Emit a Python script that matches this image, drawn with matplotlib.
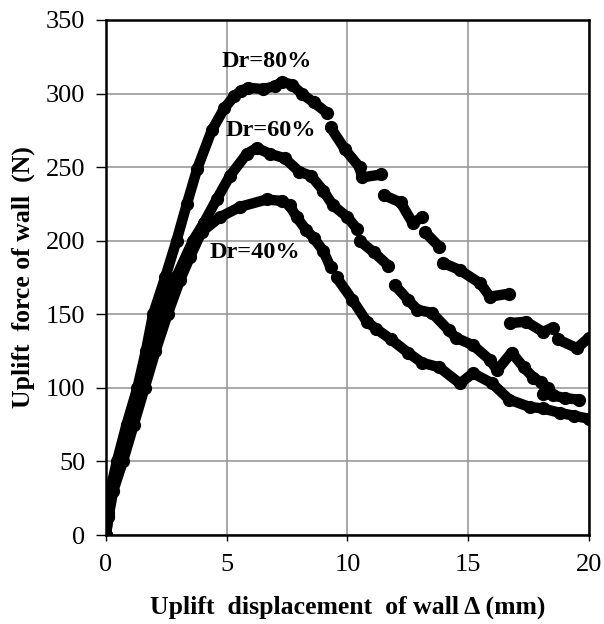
import numpy as np
import matplotlib.pyplot as plt

nan = np.nan

# Dr = 80 %
x80 = [0, 0.08, 0.2, 0.45, 0.85, 1.3, 1.65, 1.95, 2.45, 2.92, 3.35, 3.78, 4.38, 4.9, 5.3, 5.6,
       5.9, 6.5, 7.0, 7.3, 7.7, 8.1, 8.6, 9.15, nan,
       9.3, 9.9, 10.5, 10.6, 11.4, nan,
       11.5, 12.2, 12.7, 13.1, nan,
       13.2, 13.8, nan,
       13.95, 14.66, 15.5, 15.9, 16.7, nan,
       16.75, 17.4, 18.1, 18.5, nan,
       18.7, 19.5, 20.0]
y80 = [0, 15, 32, 50, 75, 100, 125, 150, 175, 200, 225, 249, 275, 290, 298, 302,
       304, 303, 305, 308, 306, 300, 294, 287, nan,
       277, 262, 250, 243, 245, nan,
       231, 226, 212, 216, nan,
       206, 196, nan,
       185, 180, 171, 162, 164, nan,
       144, 145, 138, 141, nan,
       133, 127, 134]

# Dr = 60 %
x60 = [0, 0.1, 0.25, 0.6, 1.05, 1.45, 1.85, 2.3, 2.9, 3.6, 4.05, 4.58, 5.13, 5.83, 6.24, 6.8,
       7.4, 8.0, 8.5, 9.0, 9.4, 10.0, 10.4, nan,
       10.5, 11.1, 11.7, nan,
       11.95, 12.5, 12.9, 13.5, 14.2, 14.5, 15.2, 15.9, 16.2, 16.8, 17.3, 17.7, 18.0,
       18.3, 18.1, 18.5, 19.0, 19.6]
y60 = [0, 13, 30, 50, 75, 100, 125, 150, 175, 200, 212, 228, 244, 259, 263, 259,
       256, 247, 244, 234, 224, 216, 208, nan,
       200, 192, 183, nan,
       170, 160, 153, 151, 139, 134, 129, 119, 112, 124, 114, 107, 104,
       100, 96, 95, 93, 92]

# Dr = 40 %
x40 = [0, 0.1, 0.3, 0.7, 1.15, 1.6, 2.05, 2.55, 3.06, 3.48, 3.96, 4.72, 5.55, 6.65, 7.3,
       7.6, 7.9, 8.3, 8.6, 9.0, 9.3, nan,
       9.55, 10.2, 10.8, 11.2, 11.8, 12.5, 13.1, 13.8, 14.66, 15.2, 16.0, 16.7,
       17.55, 18.1, 18.8, 19.4, 20.0]
y40 = [0, 12, 30, 50, 75, 100, 125, 150, 173, 189, 206, 216, 223, 228, 227,
       224, 216, 207, 202, 193, 182, nan,
       175, 160, 145, 140, 133, 124, 117, 114, 103, 110, 103, 92,
       87, 86, 83, 81, 79]

labels = ['Dr=80%', 'Dr=60%', 'Dr=40%']
label_x = [4.8, 4.93, 4.3]
label_y = [322, 275, 192]

fig = plt.figure(figsize=(6.04, 6.24), dpi=100)
ax = fig.add_axes([0.1755, 0.1426, 0.7995, 0.8254])

for xs, ys in [(x80, y80), (x60, y60), (x40, y40)]:
    ax.plot(xs, ys, color='black', lw=7.5, marker='o', ms=8.5,
            solid_capstyle='round', solid_joinstyle='round')

for lab, lx, ly in zip(labels, label_x, label_y):
    ax.text(lx, ly, lab, fontsize=17.5, fontweight='bold', family='Liberation Serif',
            va='center', ha='left')

ax.set_xlim(0, 20)
ax.set_ylim(0, 350)
ax.set_xticks([0, 5, 10, 15, 20])
ax.set_yticks(np.arange(0, 351, 50))
ax.grid(True, color='#999999', lw=1.2)
ax.set_axisbelow(True)
for s in ax.spines.values():
    s.set_color('black')
    s.set_linewidth(1.8)
ax.tick_params(axis='y', direction='out', length=7, width=1, pad=8)
ax.tick_params(axis='x', direction='out', length=4, width=1, pad=10)
for t in ax.get_xticklabels() + ax.get_yticklabels():
    t.set_fontfamily('Liberation Serif')
    t.set_fontsize(19)

ax.set_xlabel('Uplift  displacement  of wall \u0394 (mm)', fontsize=18.5, fontweight='bold',
              family='Liberation Serif', labelpad=14)
ax.set_ylabel('Uplift  force of wall  (N)', fontsize=18.5, fontweight='bold',
              family='Liberation Serif', labelpad=8)

plt.savefig('out.png', dpi=100)
plt.close()
